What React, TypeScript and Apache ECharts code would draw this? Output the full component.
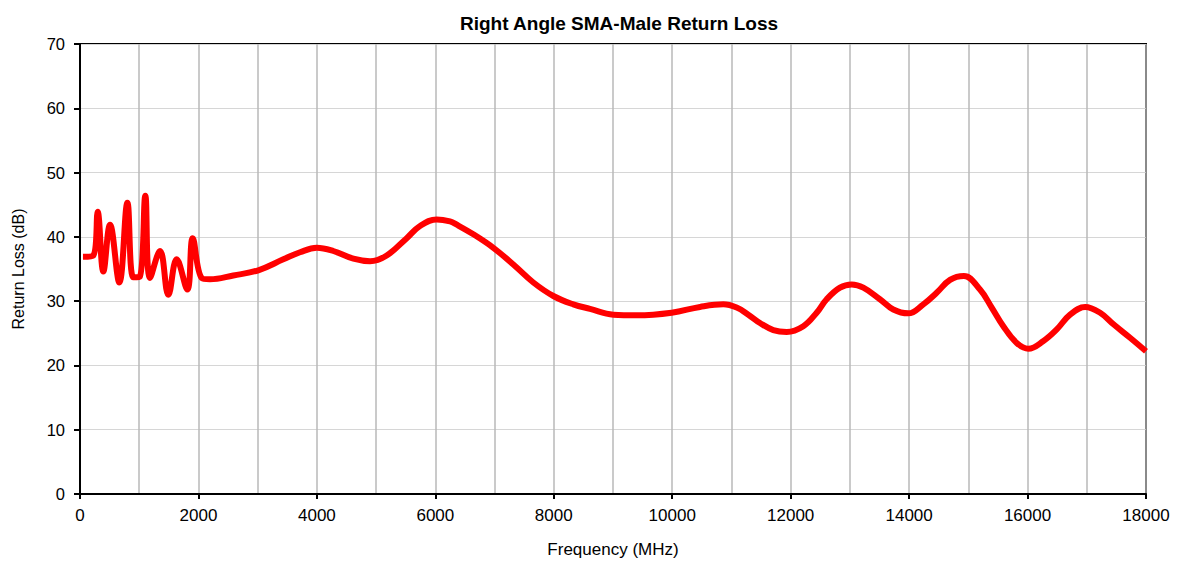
import React, { useEffect, useRef } from "react";
import * as echarts from "echarts";

const titleText = "Right Angle SMA-Male Return Loss";
const xAxisName = "Frequency (MHz)";
const yAxisName = "Return Loss (dB)";

const freqMHz = [
  50, 225, 299, 394, 507, 664, 800, 900, 1010, 1103, 1182, 1351, 1492, 1632, 1812, 1903,
  2055, 2195, 2589, 3011, 3433, 3715, 3997, 4277, 4616, 4897, 5179, 5517, 5741, 6023,
  6248, 6361, 6642, 6980, 7317, 7655, 7993, 8330, 8612, 9006, 9400, 9991, 10469, 10863,
  11088, 11285, 11482, 11707, 11933, 12214, 12439, 12608, 12833, 13031, 13227, 13507,
  13733, 13986, 14240, 14465, 14691, 14926, 15197, 15395, 15591, 15817, 16014, 16268,
  16493, 16718, 16972, 17225, 17451, 17731, 18000,
];
const returnLossDb = [
  36.9, 37.1, 43.9, 34.6, 41.9, 32.9, 45.3, 33.7, 33.8, 46.4, 33.6, 37.8, 31.0, 36.5, 31.8, 39.8,
  33.6, 33.4, 34.0, 34.8, 36.5, 37.6, 38.3, 37.8, 36.6, 36.2, 37.1, 39.8, 41.7, 42.7,
  42.4, 41.9, 40.4, 38.3, 35.7, 32.9, 30.8, 29.5, 28.8, 27.9, 27.8, 28.2, 29.1, 29.5,
  29.0, 27.9, 26.6, 25.5, 25.2, 26.1, 28.2, 30.3, 32.1, 32.6, 32.1, 30.3,
  28.7, 28.1, 29.5, 31.3, 33.3, 33.9, 31.8, 29.0, 26.1, 23.5, 22.6, 23.8,
  25.6, 27.9, 29.1, 28.2, 26.4, 24.3, 22.2,
];

export default function App() {
  const ref = useRef<HTMLDivElement>(null);
  useEffect(() => {
    if (!ref.current) return;
    const chart = echarts.init(ref.current, undefined, { renderer: "svg" });
    const font = "Liberation Sans, Arial, sans-serif";
    chart.setOption({
      animation: false,
      title: {
        text: titleText,
        left: 614,
        top: 9,
        textAlign: "center",
        textStyle: { fontFamily: font, fontSize: 19, fontWeight: "bold", color: "#000" },
      },
      grid: {
        left: 80,
        right: 31,
        top: 44,
        bottom: 68,
        show: true,
        borderColor: "#000",
        borderWidth: 2,
        backgroundColor: "transparent",
      },
      xAxis: {
        type: "value",
        min: 0,
        max: 18000,
        interval: 2000,
        name: xAxisName,
        nameLocation: "middle",
        nameGap: 47,
        nameTextStyle: { fontFamily: font, fontSize: 17, color: "#000" },
        axisLine: { show: true, lineStyle: { color: "#000", width: 2 } },
        axisTick: { show: true, length: 5, lineStyle: { color: "#000", width: 2 } },
        axisLabel: {
          fontFamily: font,
          fontSize: 17,
          color: "#000",
          margin: 13,
          formatter: (v: number) => String(v),
        },
        splitLine: { show: true, lineStyle: { color: "#b8b8b8", width: 1.5 } },
        minorTick: { show: false, splitNumber: 2 },
        minorSplitLine: { show: true, lineStyle: { color: "#b8b8b8", width: 1.5 } },
      },
      yAxis: {
        type: "value",
        min: 0,
        max: 70,
        interval: 10,
        name: yAxisName,
        nameLocation: "middle",
        nameGap: 54,
        nameRotate: 90,
        nameTextStyle: { fontFamily: font, fontSize: 16, color: "#000" },
        axisLine: { show: true, lineStyle: { color: "#000", width: 2 } },
        axisTick: { show: true, length: 6, lineStyle: { color: "#000", width: 2 } },
        axisLabel: { fontFamily: font, fontSize: 16.5, color: "#000", margin: 15 },
        splitLine: { show: true, lineStyle: { color: "#d6d6d6", width: 1 } },
      },
      series: [
        {
          type: "line",
          data: freqMHz.map((f, i) => [f, returnLossDb[i]]),
          smooth: 0.4,
          showSymbol: false,
          lineStyle: { color: "#ff0000", width: 6 },
          z: 5,
        },
      ],
    });
    return () => chart.dispose();
  }, []);
  return (
    <div
      ref={ref}
      style={{ position: "absolute", left: 0, top: 0, width: 1177, height: 563, background: "#fff" }}
    />
  );
}
